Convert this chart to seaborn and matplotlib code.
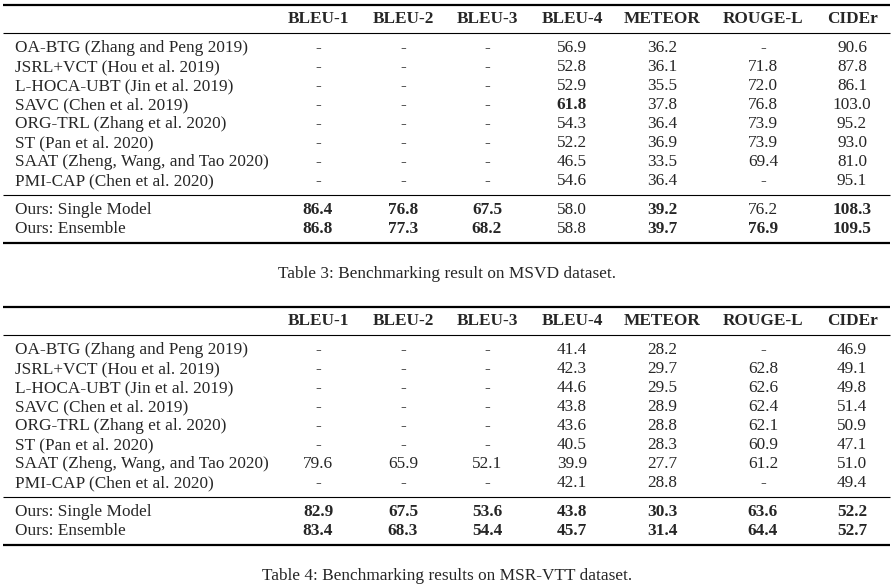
import matplotlib
matplotlib.use("Agg")
import matplotlib.pyplot as plt
import seaborn as sns

# Table content
metrics = ["BLEU-1", "BLEU-2", "BLEU-3", "BLEU-4", "METEOR", "ROUGE-L", "CIDEr"]
methods = [
    "OA-BTG (Zhang and Peng 2019)",
    "JSRL+VCT (Hou et al. 2019)",
    "L-HOCA-UBT (Jin et al. 2019)",
    "SAVC (Chen et al. 2019)",
    "ORG-TRL (Zhang et al. 2020)",
    "ST (Pan et al. 2020)",
    "SAAT (Zheng, Wang, and Tao 2020)",
    "PMI-CAP (Chen et al. 2020)",
]
ours = ["Ours: Single Model", "Ours: Ensemble"]

# MSVD (None = not reported)
msvd = [
    [None, None, None, 56.9, 36.2, None, 90.6],
    [None, None, None, 52.8, 36.1, 71.8, 87.8],
    [None, None, None, 52.9, 35.5, 72.0, 86.1],
    [None, None, None, 61.8, 37.8, 76.8, 103.0],
    [None, None, None, 54.3, 36.4, 73.9, 95.2],
    [None, None, None, 52.2, 36.9, 73.9, 93.0],
    [None, None, None, 46.5, 33.5, 69.4, 81.0],
    [None, None, None, 54.6, 36.4, None, 95.1],
]
msvd_ours = [
    [86.4, 76.8, 67.5, 58.0, 39.2, 76.2, 108.3],
    [86.8, 77.3, 68.2, 58.8, 39.7, 76.9, 109.5],
]
msvd_bold = [(3, 3)]  # (row, col) in methods
msvd_ours_bold = [
    [1, 1, 1, 0, 1, 0, 1],
    [1, 1, 1, 0, 1, 1, 1],
]

# MSR-VTT
msrvtt = [
    [None, None, None, 41.4, 28.2, None, 46.9],
    [None, None, None, 42.3, 29.7, 62.8, 49.1],
    [None, None, None, 44.6, 29.5, 62.6, 49.8],
    [None, None, None, 43.8, 28.9, 62.4, 51.4],
    [None, None, None, 43.6, 28.8, 62.1, 50.9],
    [None, None, None, 40.5, 28.3, 60.9, 47.1],
    [79.6, 65.9, 52.1, 39.9, 27.7, 61.2, 51.0],
    [None, None, None, 42.1, 28.8, None, 49.4],
]
msrvtt_ours = [
    [82.9, 67.5, 53.6, 43.8, 30.3, 63.6, 52.2],
    [83.4, 68.3, 54.4, 45.7, 31.4, 64.4, 52.7],
]
msrvtt_bold = []
msrvtt_ours_bold = [
    [1, 1, 1, 1, 1, 1, 1],
    [1, 1, 1, 1, 1, 1, 1],
]

captions = [
    "Table 3: Benchmarking result on MSVD dataset.",
    "Table 4: Benchmarking results on MSR-VTT dataset.",
]

sns.set_theme(style="white")
plt.rcParams["font.family"] = ["Liberation Serif", "DejaVu Serif"]

fig = plt.figure(figsize=(8.93, 5.86), dpi=100)
ax = fig.add_axes([0, 0, 1, 1])
ax.set_xlim(0, 893)
ax.set_ylim(586, 0)
ax.axis("off")

col_x = [318, 403, 487, 572, 662, 763, 852]
label_x = 15
fs = 12.4
row_h = 19


def fmt(v):
    return "-" if v is None else f"{v:.1f}"


def draw_table(top, rows, rows_bold, ours_rows, ours_bold, caption):
    ax.hlines(top, 3, 890, color="black", lw=1.6)
    for x, m in zip(col_x, metrics):
        ax.text(x, top + 14, m, ha="center", va="center", fontsize=fs, fontweight="bold")
    ax.hlines(top + 28, 3, 890, color="black", lw=0.8)
    for i, (name, vals) in enumerate(zip(methods, rows)):
        y = top + 43 + i * row_h
        ax.text(label_x, y, name, ha="left", va="center", fontsize=fs)
        for j, v in enumerate(vals):
            w = "bold" if (i, j) in rows_bold else "normal"
            ax.text(col_x[j], y, fmt(v), ha="center", va="center", fontsize=fs, fontweight=w)
    mid = top + 43 + len(methods) * row_h - 5
    ax.hlines(mid, 3, 890, color="black", lw=0.8)
    for i, (name, vals) in enumerate(zip(ours, ours_rows)):
        y = mid + 15 + i * row_h
        ax.text(label_x, y, name, ha="left", va="center", fontsize=fs)
        for j, v in enumerate(vals):
            w = "bold" if ours_bold[i][j] else "normal"
            ax.text(col_x[j], y, fmt(v), ha="center", va="center", fontsize=fs, fontweight=w)
    bottom = mid + 15 + len(ours) * row_h - 5
    ax.hlines(bottom, 3, 890, color="black", lw=1.6)
    ax.text(447, bottom + 31, caption, ha="center", va="center", fontsize=fs)


draw_table(5, msvd, msvd_bold, msvd_ours, msvd_ours_bold, captions[0])
draw_table(307, msrvtt, msrvtt_bold, msrvtt_ours, msrvtt_ours_bold, captions[1])

fig.savefig("out.png", dpi=100, facecolor="white")
